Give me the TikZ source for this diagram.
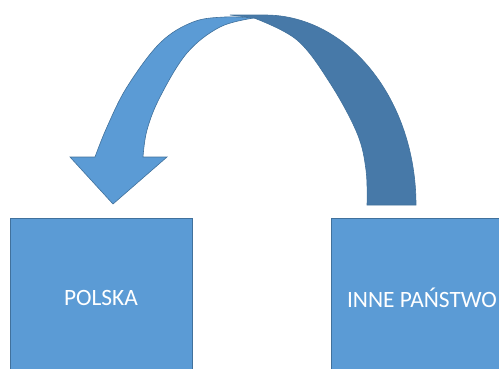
\documentclass[tikz,border=0pt]{standalone}
\usepackage{fontspec}
\setmainfont{Carlito}
\usetikzlibrary{positioning}
\definecolor{officeBlue}{HTML}{5B9BD5}
\definecolor{officeBlueDark}{HTML}{4779A8}
\definecolor{officeEdge}{HTML}{41719C}

\begin{document}
\begin{tikzpicture}[x=1pt,y=-1pt]

    \tikzstyle{countryBox}=[rectangle, draw=officeEdge, line width=0.8pt, fill=officeBlue, text=white, minimum width=182pt, minimum height=160pt, font=\fontsize{23.4}{28}\selectfont, inner sep=0pt]
    \tikzstyle{bandBack}=[draw=officeEdge, line width=0.6pt, fill=officeBlueDark]
    \tikzstyle{bandFront}=[draw=officeEdge, line width=0.6pt, fill=officeBlue]

    % Page
    \useasboundingbox (0,0) rectangle (499,368);
    \clip (0,0) rectangle (499,368);

    % Boxes
    \node at (101,298) [countryBox] (PL) {POLSKA};
    \node at (422,298) [countryBox] (IP) {INNE PAŃSTWO};

    % Curved arrow, back part
    \draw [bandBack] (367,205) -- (416,205)
        arc [start angle=0, end angle=-90, x radius=151, y radius=190]
        -- (230,15) -- (254,18)
        -- plot [smooth, tension=0.6] coordinates {(254,18) (297,40) (330,83) (357,133) (366,170) (367,205)}
        -- cycle;

    % Curved arrow, front part with head
    \draw [bandFront] (70,157) -- (95,157)
        -- plot [smooth, tension=0.6] coordinates {(95,157) (107,127) (127,87) (160,43) (193,22) (225,17) (254,18)}
        -- plot [smooth, tension=0.6] coordinates {(254,18) (220,27) (187,53) (160,97) (147,130) (143,157)}
        -- (167,157) -- (113,204) -- cycle;

\end{tikzpicture}
\end{document}
